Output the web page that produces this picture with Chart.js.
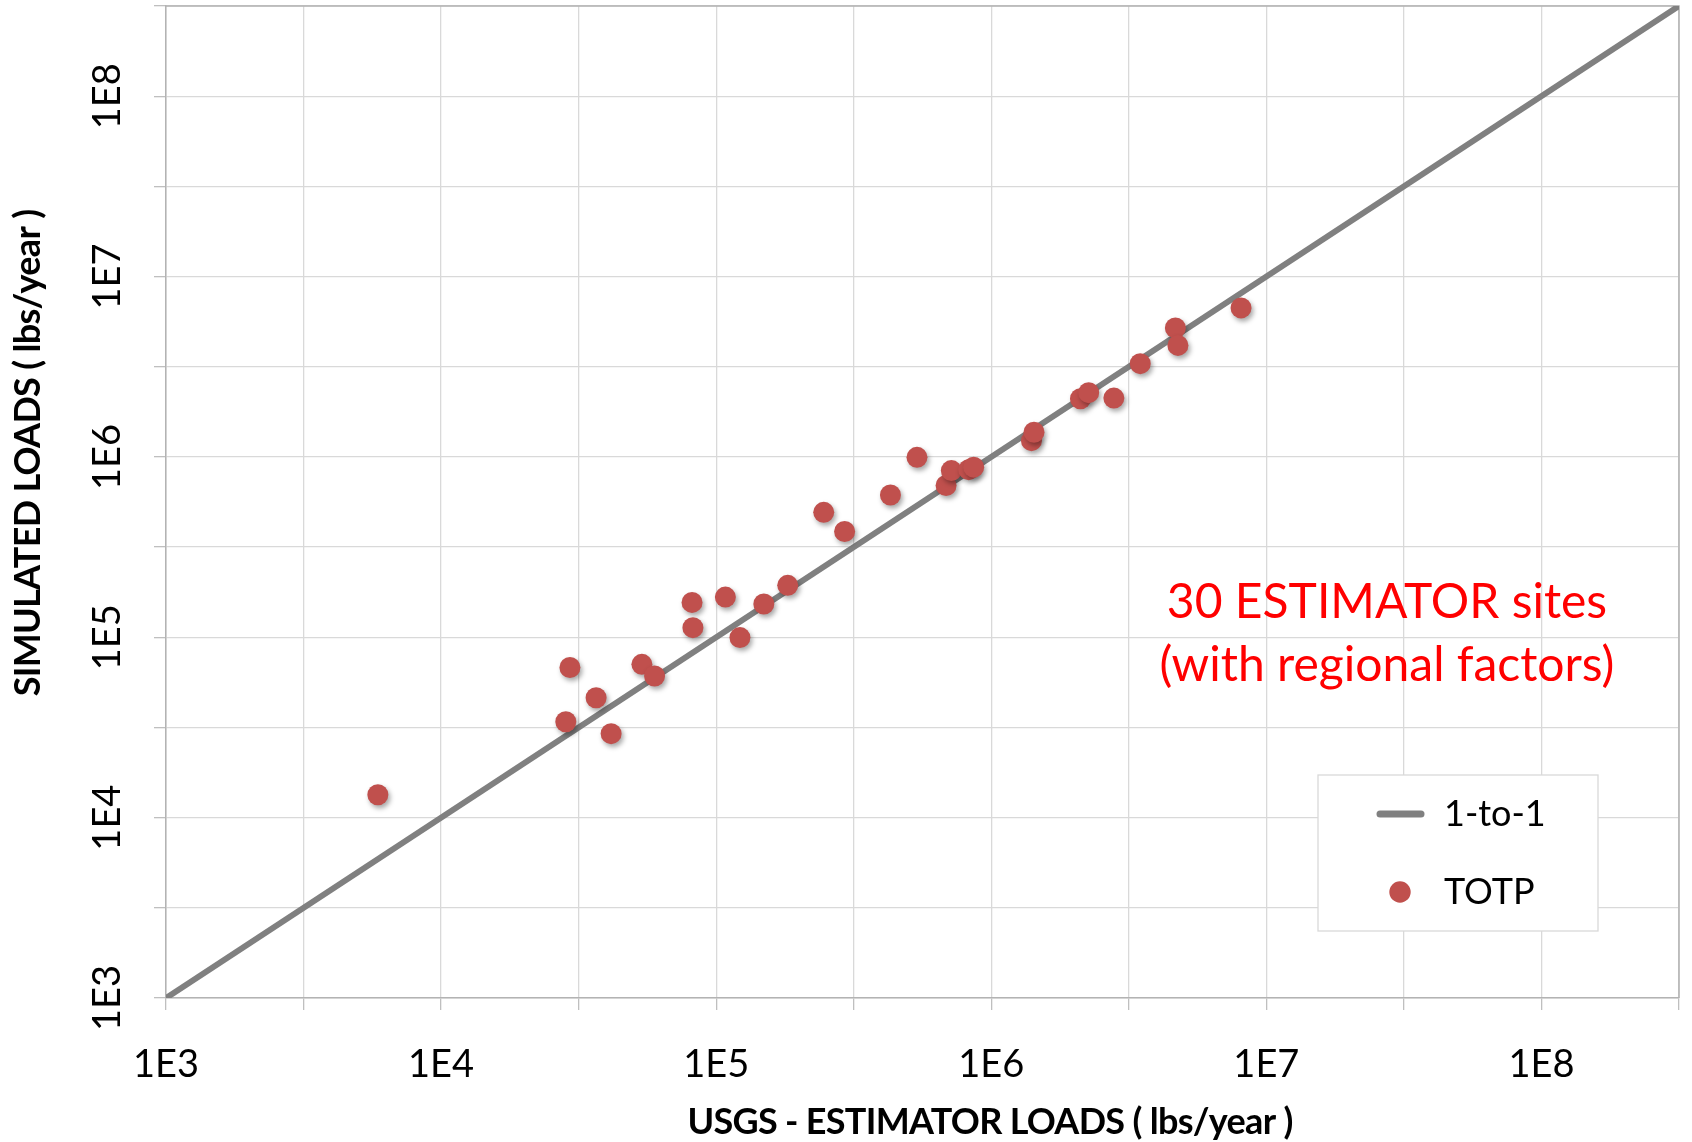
<!DOCTYPE html>
<html>
<head>
<meta charset="utf-8">
<script src="https://cdn.jsdelivr.net/npm/chart.js@4.4.1/dist/chart.umd.min.js"></script>
<style>
  html, body { margin: 0; padding: 0; background: #fff; }
  #wrap { width: 1692px; height: 1142px; }
</style>
</head>
<body>
<div id="wrap"><canvas id="chart" width="1692" height="1142"></canvas></div>
<script>
// USGS ESTIMATOR loads (x) vs simulated loads (y), lbs/year
const estimatorLoads = [5.89e3, 2.84e4, 2.94e4, 3.66e4, 4.15e4, 5.37e4, 5.97e4, 8.17e4, 8.23e4, 1.08e5,
                        1.22e5, 1.49e5, 1.82e5, 2.46e5, 2.93e5, 4.30e5, 5.37e5, 6.85e5, 7.16e5, 8.28e5,
                        8.63e5, 1.40e6, 1.43e6, 2.11e6, 2.26e6, 2.79e6, 3.48e6, 4.67e6, 4.77e6, 8.09e6];
const simulatedLoads = [1.34e4, 3.40e4, 6.80e4, 4.62e4, 2.92e4, 7.08e4, 6.10e4, 1.56e5, 1.13e5, 1.67e5,
                        9.96e4, 1.53e5, 1.94e5, 4.93e5, 3.86e5, 6.15e5, 9.95e5, 6.94e5, 8.40e5, 8.50e5,
                        8.77e5, 1.23e6, 1.37e6, 2.10e6, 2.27e6, 2.12e6, 3.29e6, 5.19e6, 4.15e6, 6.70e6];
const oneToOne = [1e3, Math.pow(10, 8.5)];
// gridlines every half decade, labels on the decades
const tickPowers = [3, 3.5, 4, 4.5, 5, 5.5, 6, 6.5, 7, 7.5, 8, 8.5];

const FONT = 'Lato';
const red = '#C0504D';
const gray = '#808080';

const halfDecadeTicks = (scale) => {
  scale.ticks = tickPowers.map(p => ({ value: Math.pow(10, p) }));
};
const decadeLabel = (v) => {
  const p = Math.log10(v);
  return Math.abs(p - Math.round(p)) < 1e-6 ? '1E' + Math.round(p) : '';
};
// fixed axis band, and no extra room for the end labels
const fixSize = (w, h) => (s) => {
  if (w) s.width = w;
  if (h) s.height = h;
  s.paddingLeft = s.paddingRight = s.paddingTop = s.paddingBottom = 0;
};

const gridOpts = { color: '#D9D9D9', lineWidth: 1.3, tickLength: 12, tickColor: '#BFBFBF' };
const borderOpts = { display: true, color: '#B3B3B3', width: 1.5 };

// soft drop shadow under the dots
const dotShadow = {
  id: 'dotShadow',
  beforeDatasetDraw(chart, args) {
    if (args.index !== 0) return;
    const c = chart.ctx;
    c.save();
    c.shadowColor = 'rgba(0,0,0,0.35)';
    c.shadowBlur = 5;
    c.shadowOffsetX = 2;
    c.shadowOffsetY = 3;
  },
  afterDatasetDraw(chart, args) {
    if (args.index === 0) chart.ctx.restore();
  }
};

// top and right edges of the plot frame
const frame = {
  id: 'frame',
  beforeDatasetsDraw(chart) {
    const { ctx, chartArea: a } = chart;
    ctx.save();
    ctx.strokeStyle = '#B3B3B3';
    ctx.lineWidth = 1.5;
    ctx.beginPath();
    ctx.moveTo(a.left, a.top);
    ctx.lineTo(a.right, a.top);
    ctx.lineTo(a.right, a.bottom);
    ctx.stroke();
    ctx.restore();
  }
};

// axis titles, legend box and the red note
const extras = {
  id: 'extras',
  afterDraw(chart) {
    const ctx = chart.ctx;
    const ds = chart.data.datasets;
    ctx.save();

    ctx.fillStyle = '#000';
    ctx.font = 'bold 36px ' + FONT;
    ctx.letterSpacing = '-0.7px';
    ctx.textAlign = 'center';
    ctx.textBaseline = 'middle';
    ctx.fillText('USGS - ESTIMATOR LOADS ( lbs/year )', 990, 1122);
    ctx.save();
    ctx.translate(28, 453);
    ctx.rotate(-Math.PI / 2);
    ctx.fillText('SIMULATED LOADS ( lbs/year )', 0, 0);
    ctx.restore();
    ctx.letterSpacing = '0px';

    // legend
    ctx.fillStyle = '#fff';
    ctx.fillRect(1318, 775, 280, 156);
    ctx.strokeStyle = '#D9D9D9';
    ctx.lineWidth = 1.3;
    ctx.strokeRect(1318, 775, 280, 156);

    ctx.strokeStyle = gray;
    ctx.lineWidth = 7;
    ctx.lineCap = 'round';
    ctx.beginPath();
    ctx.moveTo(1380, 814);
    ctx.lineTo(1421, 814);
    ctx.stroke();

    ctx.fillStyle = red;
    ctx.beginPath();
    ctx.arc(1400, 892, 10.7, 0, Math.PI * 2);
    ctx.fill();

    ctx.fillStyle = '#000';
    ctx.font = '36px ' + FONT;
    ctx.textAlign = 'left';
    ctx.fillText(ds[1].label, 1444, 814);
    ctx.fillText(ds[0].label, 1444, 892);

    // note
    ctx.fillStyle = '#FF0000';
    ctx.font = '48px ' + FONT;
    ctx.textAlign = 'center';
    ctx.textBaseline = 'alphabetic';
    ctx.fillText('30 ESTIMATOR sites', 1387, 618);
    ctx.fillText('(with regional factors)', 1387, 681);

    ctx.restore();
  }
};

new Chart(document.getElementById('chart'), {
  type: 'scatter',
  data: {
    datasets: [
      {
        label: 'TOTP',
        data: estimatorLoads.map((x, i) => ({ x: x, y: simulatedLoads[i] })),
        backgroundColor: red,
        borderColor: red,
        borderWidth: 0,
        pointRadius: 10.5,
        order: 0
      },
      {
        label: '1-to-1',
        data: oneToOne.map(v => ({ x: v, y: v })),
        showLine: true,
        borderColor: gray,
        borderWidth: 6,
        pointRadius: 0,
        order: 1
      }
    ]
  },
  options: {
    responsive: false,
    animation: false,
    devicePixelRatio: 1,
    layout: { autoPadding: false, padding: { top: 6, right: 13, left: 0, bottom: 0 } },
    plugins: { legend: { display: false }, tooltip: { enabled: false } },
    scales: {
      x: {
        type: 'logarithmic',
        position: 'bottom',
        min: oneToOne[0],
        max: oneToOne[1],
        afterBuildTicks: halfDecadeTicks,
        afterFit: fixSize(0, 144),
        grid: gridOpts,
        border: borderOpts,
        ticks: {
          autoSkip: false, minRotation: 0, maxRotation: 0, padding: 32,
          color: '#000', font: { family: FONT, size: 38 }, callback: decadeLabel
        }
      },
      y: {
        type: 'logarithmic',
        position: 'left',
        min: oneToOne[0],
        max: oneToOne[1],
        afterBuildTicks: halfDecadeTicks,
        afterFit: fixSize(166, 0),
        grid: gridOpts,
        border: borderOpts,
        ticks: {
          autoSkip: false, minRotation: 90, maxRotation: 90, crossAlign: 'center', padding: 13.6,
          color: '#000', font: { family: FONT, size: 38 }, callback: decadeLabel
        }
      }
    }
  },
  plugins: [dotShadow, frame, extras]
});
</script>
</body>
</html>
